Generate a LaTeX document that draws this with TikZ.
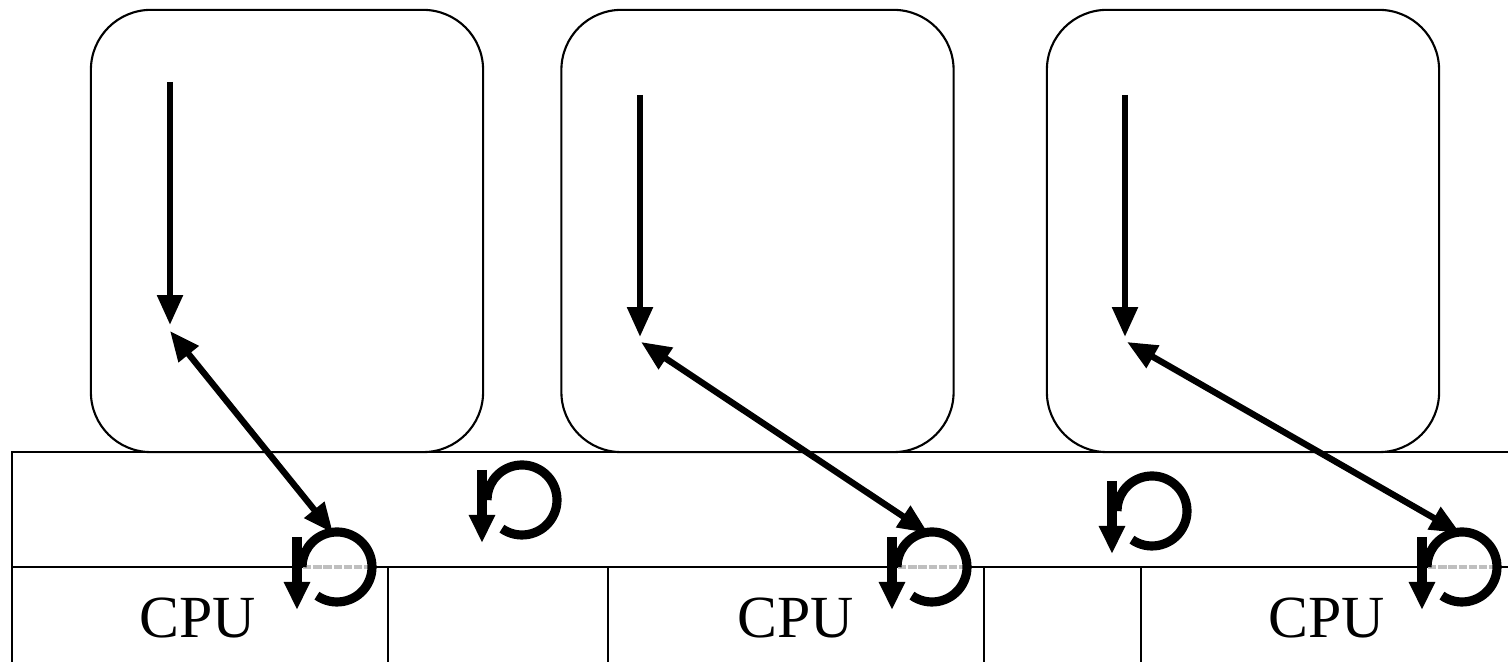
\documentclass[tikz,border=0pt]{standalone}
\usepackage{fontspec}
\setmainfont{Liberation Serif}
\usetikzlibrary{arrows.meta,calc}

\tikzset{
  procbox/.style={draw, line width=0.6pt, rounded corners=0.6cm,
    minimum width=3.92cm, minimum height=4.42cm, inner sep=0pt},
  flow/.style={line width=1.8pt, -{Triangle[length=8.5pt,width=7pt]}},
  flowboth/.style={line width=1.8pt, {Triangle[length=8.5pt,width=7pt]}-{Triangle[length=8.5pt,width=7pt]}},
  loopline/.style={line width=2.6pt},
  cpulabel/.style={font=\fontsize{17}{20}\selectfont, anchor=base, inner sep=0pt}
}

\begin{document}
\begin{tikzpicture}[x=0.01cm, y=-0.01cm, line width=0.6pt]
  \clip (0,0) rectangle (1508,662);
  % user processes
  \node[procbox] (p1) at (287,231) {};
  \node[procbox] (p2) at (757.5,231) {};
  \node[procbox] (p3) at (1243,231) {};
  % kernel band and cpu row
  \draw (12,452) rectangle (1530,567);
  \foreach \x in {12,388,608,984,1141}
    \draw (\x,567) -- (\x,680);
  \node[cpulabel] (cpu1) at (198,638) {CPU};
  \node[cpulabel] (cpu2) at (796,638) {CPU};
  \node[cpulabel] (cpu3) at (1327,638) {CPU};
  % threads on the cpu boundary: line shows grey inside
  \foreach \cx in {337,932,1462} {
    \fill[white] (\cx,567) circle (34);
    \draw[gray!50, line width=0.9pt, dash pattern=on 2.4pt off 0.5pt] (\cx-34,567) -- (\cx+34,567);
  }
  % circular arrows
  \foreach \cx/\cy/\n in {337/567/a, 522/500/b, 932/567/c, 1152/511/d, 1462/567/e} {
    \coordinate (s\n) at (\cx,\cy);
    \draw[loopline] (s\n) ++(125:35) arc (125:-180:35);
    \draw[loopline, -{Triangle[length=8pt,width=7pt]}] ($(s\n)+(-40,-30)$) -- ($(s\n)+(-40,43)$);
  }
  % vertical flow inside each process
  \coordinate (t1) at (170,82);   \coordinate (m1) at (170,325);
  \coordinate (t2) at (640,95);   \coordinate (m2) at (640,337);
  \coordinate (t3) at (1125,95);  \coordinate (m3) at (1125,337);
  \draw[flow] (t1) -- (m1);
  \draw[flow] (t2) -- (m2);
  \draw[flow] (t3) -- (m3);
  % links down to the kernel threads
  \coordinate (d1) at (170,331);  \coordinate (k1) at (333,533);
  \coordinate (d2) at (641,342);  \coordinate (k2) at (928,533);
  \coordinate (d3) at (1127,342); \coordinate (k3) at (1460,533);
  \draw[flowboth] (d1) -- (k1);
  \draw[flowboth] (d2) -- (k2);
  \draw[flowboth] (d3) -- (k3);
\end{tikzpicture}
\end{document}
